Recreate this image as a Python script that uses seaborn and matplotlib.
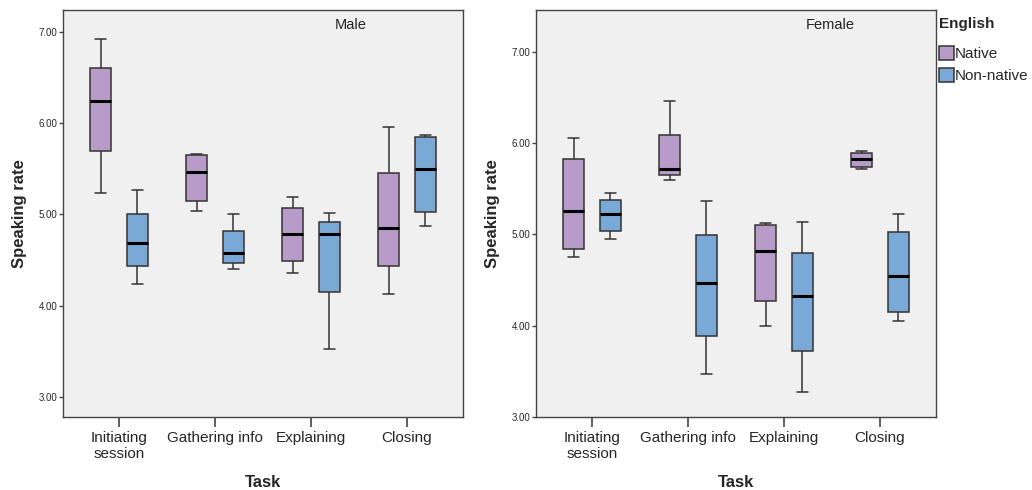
import numpy as np
import pandas as pd
import seaborn as sns
import matplotlib.pyplot as plt
from matplotlib.ticker import FormatStrFormatter

sns.set_theme(style="white")
plt.rcParams['font.family'] = ['Liberation Sans', 'DejaVu Sans']

tasks = ["Initiating\nsession", "Gathering info", "Explaining", "Closing"]
groups = ["Native", "Non-native"]
panels = ["Male", "Female"]

# five-number summaries: (min, Q1, median, Q3, max), one per task
male_native = [[5.23, 5.70, 6.24, 6.60, 6.92],
               [5.04, 5.15, 5.46, 5.655, 5.66],
               [4.36, 4.49, 4.79, 5.07, 5.19],
               [4.13, 4.44, 4.85, 5.45, 5.96]]
male_nonnative = [[4.24, 4.44, 4.69, 5.00, 5.27],
                  [4.40, 4.47, 4.58, 4.82, 5.00],
                  [3.53, 4.15, 4.79, 4.92, 5.02],
                  [4.87, 5.03, 5.50, 5.85, 5.87]]
female_native = [[4.75, 4.84, 5.26, 5.83, 6.05],
                 [5.60, 5.65, 5.71, 6.09, 6.46],
                 [4.00, 4.27, 4.82, 5.10, 5.12],
                 [5.72, 5.74, 5.82, 5.89, 5.91]]
female_nonnative = [[4.95, 5.04, 5.22, 5.38, 5.45],
                    [3.47, 3.89, 4.47, 4.99, 5.36],
                    [3.27, 3.72, 4.33, 4.80, 5.13],
                    [4.05, 4.15, 4.54, 5.02, 5.22]]

series = {("Male", "Native"): male_native, ("Male", "Non-native"): male_nonnative,
          ("Female", "Native"): female_native, ("Female", "Non-native"): female_nonnative}

rows = []
for (sex, eng), vals in series.items():
    for task, five in zip(tasks, vals):
        for v in five:
            rows.append({"Sex": sex, "English": eng, "Task": task, "Speaking rate": v})
df = pd.DataFrame(rows)

palette = {"Native": "#B89BC9", "Non-native": "#7BA9D7"}
edge = "#333333"

fig = plt.figure(figsize=(10.32, 4.9), dpi=100)
ax_l = fig.add_axes([63/1032, 73/490, 400/1032, 407/490])
ax_r = fig.add_axes([536/1032, 73/490, 400/1032, 407/490])
ylims = {"Male": (2.78, 7.24), "Female": (3.0, 7.456)}
title_x = {"Male": 0.72, "Female": 0.735}

for ax, sex in zip([ax_l, ax_r], panels):
    sub = df[df["Sex"] == sex]
    sns.boxplot(data=sub, x="Task", y="Speaking rate", hue="English",
                order=tasks, hue_order=groups, palette=palette,
                width=0.76, gap=0.42, whis=(0, 100), linecolor=edge,
                linewidth=1.1, saturation=1,
                medianprops=dict(color="black", linewidth=2.2),
                ax=ax, legend=(sex == "Female"))
    ax.set_facecolor("#F0F0F0")
    ax.set_xlim(-0.583, 3.583)
    ax.set_ylim(*ylims[sex])
    ax.set_yticks([3, 4, 5, 6, 7])
    ax.yaxis.set_major_formatter(FormatStrFormatter("%.2f"))
    for s in ax.spines.values():
        s.set_color("#444444")
        s.set_linewidth(1.0)
    ax.tick_params(axis="y", direction="out", length=3, width=1, color="#444444",
                   labelsize=7, pad=1, left=True)
    ax.tick_params(axis="x", direction="out", length=7, width=1.2, color="#444444",
                   labelsize=11, pad=3, bottom=True)
    ax.set_xlabel("Task", fontsize=12, fontweight="bold", labelpad=10)
    ax.set_ylabel("Speaking rate", fontsize=12, fontweight="bold", labelpad=8)
    ax.text(title_x[sex], 0.963, sex, transform=ax.transAxes, ha="center",
            va="center", fontsize=10.5, color="#222222")

sns.move_legend(ax_r, "upper left", bbox_to_anchor=(1.0, 0.991), frameon=False,
                title="English", borderaxespad=0.0, borderpad=0.2,
                handlelength=0.95, handleheight=1.0, handletextpad=0.1,
                labelspacing=0.45, fontsize=11, title_fontsize=11)
leg = ax_r.get_legend()
leg.get_title().set_fontweight("bold")
leg._legend_box.align = "left"
leg._legend_box.sep = 11

fig.savefig("out.png", dpi=100)
